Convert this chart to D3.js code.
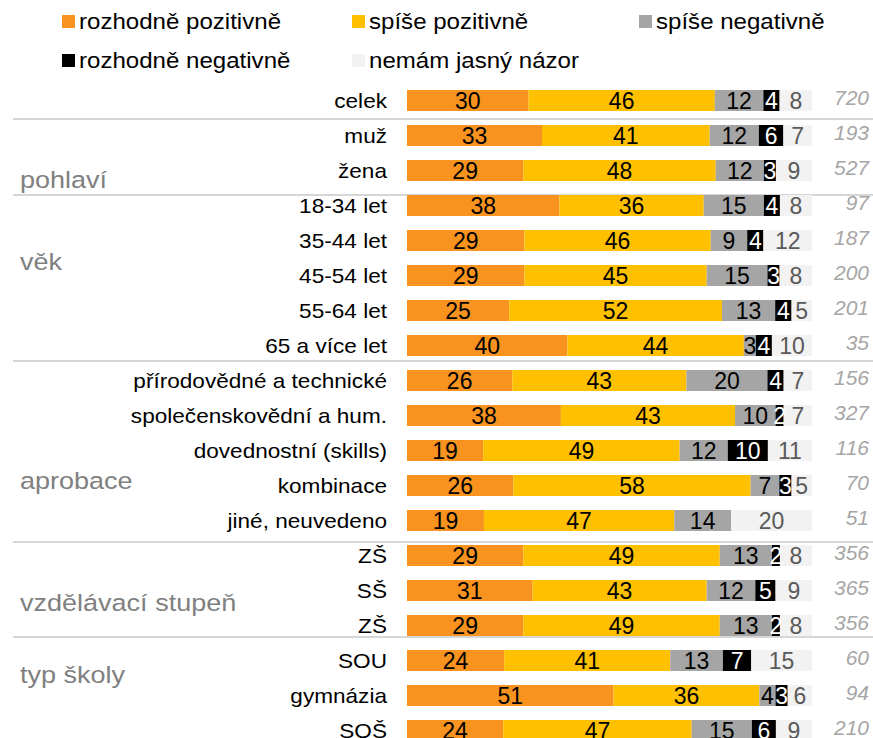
<!DOCTYPE html>
<html>
<head>
<meta charset="utf-8">
<script src="https://cdn.jsdelivr.net/npm/d3@7"></script>
<style>
  body { margin: 0; background: #fff; }
  svg { display: block; font-family: "Liberation Sans", Arial, sans-serif; }
</style>
</head>
<body>
<svg id="chart"></svg>
<script>
//Data (percent per answer, n per row)
const answers = ["rozhodně pozitivně", "spíše pozitivně", "spíše negativně", "rozhodně negativně", "nemám jasný názor"];
const rowLabels = ["celek", "muž", "žena", "18-34 let", "35-44 let", "45-54 let", "55-64 let", "65 a více let",
  "přírodovědné a technické", "společenskovědní a hum.", "dovednostní (skills)", "kombinace", "jiné, neuvedeno",
  "ZŠ", "SŠ", "ZŠ", "SOU", "gymnázia", "SOŠ"];
const rozhodnePoz = [30, 33, 29, 38, 29, 29, 25, 40, 26, 38, 19, 26, 19, 29, 31, 29, 24, 51, 24];
const spisePoz = [46, 41, 48, 36, 46, 45, 52, 44, 43, 43, 49, 58, 47, 49, 43, 49, 41, 36, 47];
const spiseNeg = [12, 12, 12, 15, 9, 15, 13, 3, 20, 10, 12, 7, 14, 13, 12, 13, 13, 4, 15];
const rozhodneNeg = [4, 6, 3, 4, 4, 3, 4, 4, 4, 2, 10, 3, 0, 2, 5, 2, 7, 3, 6];
const nemam = [8, 7, 9, 8, 12, 8, 5, 10, 7, 7, 11, 5, 20, 8, 9, 8, 15, 6, 9];
const counts = [720, 193, 527, 97, 187, 200, 201, 35, 156, 327, 116, 70, 51, 356, 365, 356, 60, 94, 210];
const groupNames = ["pohlaví", "věk", "aprobace", "vzdělávací stupeň", "typ školy"];
const groupStart = [1, 3, 8, 13, 16];

//layout
const width = 873, height = 738;
const colors = ["#F7931E", "#FFC000", "#A5A5A5", "#000000", "#F2F2F2"];
const labelColors = ["#000", "#000", "#000", "#fff", "#595959"];
const groupLabelY = [188, 270, 489, 611, 683];
const sepNudge = [1, 7, -2, 4, -6];

//text in the original is a bit wider than Liberation Sans, stretch it horizontally
function stretch(sel, fx, fy, sx) {
  sel.attr("transform", (d, i) => `translate(${fx(d, i)},${fy(d, i)}) scale(${sx},1)`);
}

function drawChart() {
  const svg = d3.select("#chart").attr("width", width).attr("height", height);

  //build the rows, one object per category
  const series = [rozhodnePoz, spisePoz, spiseNeg, rozhodneNeg, nemam];
  const rows = rowLabels.map((label, i) => {
    const r = { idx: i, label: label, n: counts[i] };
    answers.forEach((a, k) => (r[a] = series[k][i]));
    return r;
  });

  //stack normalised to 100 %
  const stacked = d3.stack().keys(answers).offset(d3.stackOffsetExpand)(rows);

  const x = d3.scaleLinear().domain([0, 1]).range([407, 812]);
  const y = d3
    .scaleBand()
    .domain(d3.range(rows.length))
    .range([83, 748])
    .paddingInner(0.4)
    .paddingOuter(0.2);
  const color = d3.scaleOrdinal().domain(answers).range(colors);
  const mid = (i) => y(i) + y.bandwidth() / 2;

  //separator lines between groups
  svg
    .append("g")
    .selectAll("line")
    .data(groupStart)
    .join("line")
    .attr("x1", 13)
    .attr("x2", width)
    .attr("y1", (d, i) => (y(d - 1) + y.bandwidth() + y(d)) / 2 + sepNudge[i])
    .attr("y2", (d, i) => (y(d - 1) + y.bandwidth() + y(d)) / 2 + sepNudge[i])
    .attr("stroke", "#c8c8c8")
    .attr("stroke-width", 1.5);

  //group labels
  svg
    .append("g")
    .selectAll("text")
    .data(groupNames)
    .join("text")
    .call(stretch, () => 20, (d, i) => groupLabelY[i], 1.15)
    .attr("fill", "#808080")
    .attr("font-size", 23.5)
    .text((d) => d);

  //segments
  const layer = svg
    .append("g")
    .selectAll("g")
    .data(stacked)
    .join("g")
    .attr("fill", (d) => color(d.key));

  layer
    .selectAll("rect")
    .data((d) => d)
    .join("rect")
    .attr("x", (d) => x(d[0]))
    .attr("y", (d) => y(d.data.idx))
    .attr("width", (d) => x(d[1]) - x(d[0]))
    .attr("height", y.bandwidth());

  //value labels inside segments (after all rects so they sit on top)
  const labels = svg.append("g").attr("font-size", 23).attr("text-anchor", "middle");
  stacked.forEach((s, k) => {
    labels
      .append("g")
      .attr("fill", labelColors[k])
      .selectAll("text")
      .data(s.filter((d) => d.data[s.key] > 0))
      .join("text")
      .attr("x", (d) => (x(d[0]) + x(d[1])) / 2)
      .attr("y", (d) => mid(d.data.idx))
      .attr("dy", "0.35em")
      .text((d) => d.data[s.key]);
  });

  //category labels
  svg
    .append("g")
    .attr("font-size", 20)
    .attr("text-anchor", "end")
    .selectAll("text")
    .data(rows)
    .join("text")
    .call(stretch, () => 387, (d) => mid(d.idx), 1.13)
    .attr("dy", "0.35em")
    .attr("fill", "#000")
    .text((d) => d.label);

  //n per row
  svg
    .append("g")
    .attr("font-size", 21)
    .attr("font-style", "italic")
    .attr("text-anchor", "end")
    .attr("fill", "#A6A6A6")
    .selectAll("text")
    .data(rows)
    .join("text")
    .attr("x", 869)
    .attr("y", (d) => mid(d.idx) - 3)
    .attr("dy", "0.35em")
    .text((d) => d.n);

  //legend
  const legendPos = [[62, 15], [352, 15], [639, 15], [62, 54], [352, 54]];
  const legend = svg
    .append("g")
    .selectAll("g")
    .data(answers)
    .join("g")
    .attr("transform", (d, i) => `translate(${legendPos[i][0]},${legendPos[i][1]})`);
  legend
    .append("rect")
    .attr("width", 13)
    .attr("height", 13)
    .attr("fill", (d) => color(d));
  legend
    .append("text")
    .call(stretch, () => 17, () => 13.5, 1.12)
    .attr("font-size", 21.5)
    .attr("fill", "#000")
    .text((d) => d);
}

drawChart();
</script>
</body>
</html>
